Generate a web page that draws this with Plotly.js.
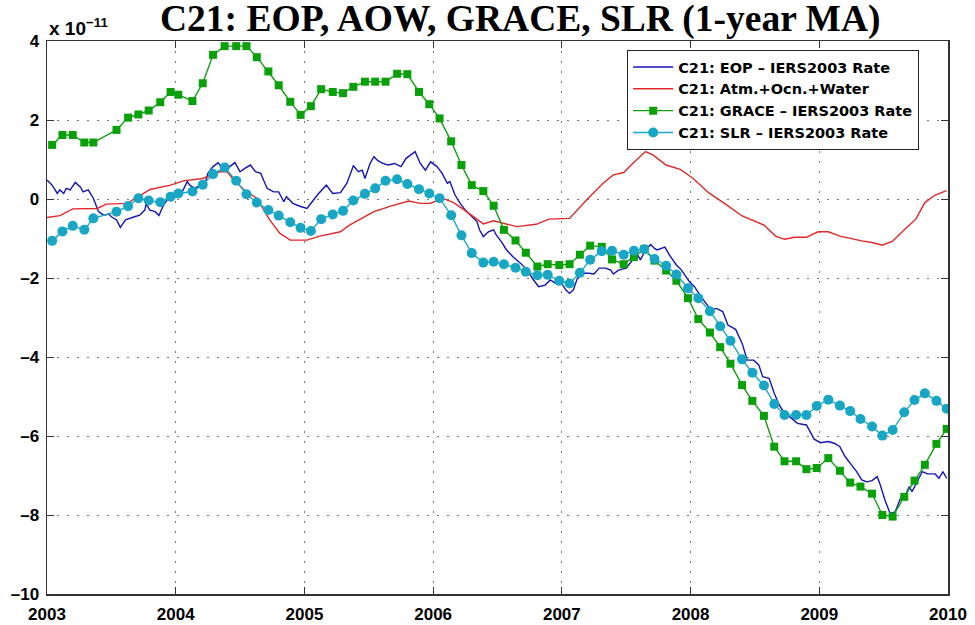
<!DOCTYPE html>
<html>
<head>
<meta charset="utf-8">
<script src="https://cdn.plot.ly/plotly-3.0.1.min.js"></script>
<style>html,body{margin:0;padding:0;background:#fff;}#chart{width:975px;height:625px;}</style>
</head>
<body>
<div id="chart"></div>
<script>
// ---- Data (units of 1e-11) ----
const eopYear = [2003.00,2003.04,2003.08,2003.10,2003.13,2003.15,2003.18,2003.22,2003.26,2003.28,2003.32,2003.36,2003.40,2003.44,2003.48,2003.50,2003.54,2003.57,2003.61,2003.64,2003.68,2003.72,2003.76,2003.77,2003.80,2003.84,2003.87,2003.90,2003.94,2003.97,
2004.01,2004.05,2004.09,2004.11,2004.15,2004.19,2004.23,2004.25,2004.29,2004.33,2004.36,2004.38,2004.42,2004.46,2004.50,2004.54,2004.58,2004.62,2004.66,2004.71,2004.76,2004.80,2004.84,2004.86,2004.91,2004.97,
2005.02,2005.06,2005.11,2005.17,2005.22,2005.28,2005.33,2005.38,2005.42,2005.45,2005.47,2005.51,2005.54,2005.57,2005.61,2005.65,2005.70,2005.75,2005.79,2005.86,2005.90,2005.94,2005.98,
2006.03,2006.07,2006.11,2006.13,2006.17,2006.21,2006.25,2006.30,2006.34,2006.36,2006.39,2006.43,2006.47,2006.49,2006.53,2006.57,2006.62,2006.68,2006.73,2006.78,2006.82,2006.87,2006.91,2006.95,2006.99,
2007.03,2007.06,2007.09,2007.12,2007.16,2007.21,2007.25,2007.29,2007.34,2007.38,2007.40,2007.44,2007.50,2007.55,2007.59,2007.61,2007.65,2007.69,2007.72,2007.74,2007.80,2007.84,2007.89,2007.93,2007.99,
2008.03,2008.10,2008.16,2008.20,2008.25,2008.29,2008.35,2008.40,2008.44,2008.49,2008.53,2008.56,2008.61,2008.65,2008.69,2008.73,2008.77,2008.83,2008.87,2008.90,2008.96,
2009.01,2009.07,2009.12,2009.16,2009.20,2009.25,2009.29,2009.33,2009.37,2009.41,2009.45,2009.47,2009.51,2009.55,2009.59,2009.63,2009.67,2009.70,2009.72,2009.76,2009.80,2009.84,2009.90,2009.93,2009.96,2009.99];
const eopValue = [0.48,0.35,0.14,0.23,0.14,0.27,0.23,0.42,0.30,0.18,0.23,0.02,-0.32,-0.41,-0.38,-0.45,-0.53,-0.72,-0.53,-0.49,-0.45,-0.41,-0.28,-0.13,-0.28,-0.32,-0.42,-0.19,0.02,-0.04,
0.10,0.18,0.44,0.35,0.27,0.35,0.40,0.65,0.82,0.92,0.78,0.86,0.82,0.92,0.69,0.78,0.86,0.69,0.65,0.27,0.18,0.18,-0.07,0.06,-0.11,-0.19,
-0.24,-0.07,0.14,0.35,0.14,0.16,0.40,0.84,0.69,0.73,0.52,0.90,1.07,0.97,0.90,0.86,0.90,0.82,1.03,1.20,0.90,0.73,0.94,
0.82,0.65,0.40,0.44,0.10,-0.11,-0.28,-0.45,-0.57,-0.78,-0.95,-0.83,-0.78,-0.91,-1.08,-1.29,-1.46,-1.63,-1.80,-2.05,-2.22,-2.18,-2.05,-2.13,-2.09,
-2.30,-2.39,-2.30,-2.01,-1.88,-1.88,-1.90,-1.75,-1.75,-1.80,-1.90,-1.80,-1.75,-1.54,-1.42,-1.54,-1.29,-1.15,-1.25,-1.29,-1.22,-1.44,-1.67,-1.80,-2.09,
-2.22,-2.56,-2.81,-2.77,-2.85,-3.19,-3.30,-3.65,-4.08,-4.08,-4.20,-4.50,-4.54,-4.92,-5.22,-5.43,-5.51,-5.68,-5.70,-5.72,-6.08,
-6.17,-6.14,-6.19,-6.27,-6.52,-6.73,-6.90,-7.11,-7.16,-7.13,-7.03,-7.20,-7.62,-7.96,-7.92,-7.58,-7.49,-7.28,-7.41,-7.16,-6.90,-6.96,-6.96,-7.07,-6.90,-7.07];

const aowYear = [2003.00,2003.10,2003.20,2003.39,2003.46,2003.62,2003.72,2003.80,2003.96,2004.06,2004.21,2004.34,2004.40,2004.45,2004.55,2004.63,2004.73,2004.81,2004.89,2005.02,2005.12,2005.28,2005.35,2005.43,2005.54,2005.67,2005.81,2005.90,2005.98,2006.07,2006.16,2006.26,2006.39,2006.47,2006.55,2006.65,2006.80,2006.90,2007.06,2007.19,2007.32,2007.40,2007.48,2007.55,2007.65,2007.71,2007.81,2007.92,2008.02,2008.14,2008.28,2008.40,2008.57,2008.66,2008.73,2008.81,2008.90,2008.99,2009.07,2009.16,2009.33,2009.41,2009.49,2009.57,2009.66,2009.75,2009.82,2009.90,2009.99];
const aowValue = [-0.47,-0.42,-0.25,-0.24,-0.13,-0.11,0.08,0.24,0.35,0.46,0.52,0.69,0.69,0.48,0.18,0.02,-0.53,-0.87,-1.04,-1.04,-0.94,-0.83,-0.66,-0.51,-0.32,-0.18,-0.05,-0.11,-0.11,0.02,-0.09,-0.32,-0.63,-0.55,-0.62,-0.70,-0.64,-0.51,-0.49,-0.03,0.40,0.61,0.67,0.90,1.20,1.11,0.86,0.75,0.52,0.16,-0.15,-0.43,-0.66,-0.94,-1.02,-0.97,-0.97,-0.83,-0.83,-0.94,-1.06,-1.10,-1.17,-1.07,-0.78,-0.51,-0.09,0.10,0.21];

const monthYear = [2003.04,2003.12,2003.20,2003.29,2003.36,2003.54,2003.63,2003.71,2003.79,2003.88,2003.96,
2004.02,2004.13,2004.21,2004.29,2004.38,2004.47,2004.55,2004.63,2004.72,2004.80,2004.89,2004.97,
2005.05,2005.13,2005.22,2005.30,2005.38,2005.47,2005.55,2005.63,2005.72,2005.80,2005.89,2005.97,
2006.05,2006.14,2006.22,2006.30,2006.39,2006.47,2006.55,2006.64,2006.72,2006.81,2006.89,2006.98,
2007.06,2007.14,2007.22,2007.31,2007.39,2007.48,2007.56,2007.64,2007.72,2007.81,2007.89,2007.98,
2008.06,2008.15,2008.23,2008.31,2008.40,2008.48,2008.57,2008.65,2008.73,2008.82,2008.90,2008.98,
2009.07,2009.16,2009.24,2009.32,2009.41,2009.49,2009.57,2009.66,2009.74,2009.82,2009.91,2009.99];
const graceValue = [1.37,1.62,1.62,1.43,1.43,1.75,2.06,2.14,2.24,2.45,2.71,
2.64,2.48,2.93,3.65,3.87,3.87,3.87,3.59,3.23,2.88,2.46,2.13,
2.35,2.78,2.71,2.68,2.84,2.97,2.97,2.97,3.17,3.16,2.71,2.40,
2.04,1.46,0.86,0.35,0.20,-0.17,-0.78,-1.05,-1.36,-1.71,-1.65,-1.67,
-1.65,-1.41,-1.18,-1.21,-1.53,-1.65,-1.47,-1.27,-1.56,-1.81,-2.07,-2.51,
-3.04,-3.38,-3.75,-4.17,-4.71,-5.11,-5.49,-6.27,-6.64,-6.64,-6.84,-6.81,
-6.56,-6.88,-7.18,-7.28,-7.46,-8.00,-8.04,-7.54,-7.13,-6.73,-6.20,-5.82];
const slrValue = [-1.06,-0.82,-0.68,-0.78,-0.49,-0.32,-0.18,0.02,-0.04,-0.08,0.06,
0.14,0.19,0.36,0.63,0.80,0.46,0.12,-0.09,-0.28,-0.42,-0.59,-0.73,
-0.81,-0.51,-0.39,-0.30,-0.04,0.13,0.27,0.46,0.50,0.38,0.25,0.14,
0.02,-0.41,-0.92,-1.37,-1.61,-1.59,-1.65,-1.74,-1.84,-1.93,-1.92,-2.07,
-2.14,-1.87,-1.54,-1.32,-1.31,-1.41,-1.31,-1.27,-1.52,-1.69,-1.91,-2.26,
-2.51,-2.84,-3.22,-3.59,-4.06,-4.40,-4.72,-5.19,-5.47,-5.47,-5.47,-5.24,
-5.08,-5.23,-5.37,-5.57,-5.76,-5.99,-5.85,-5.40,-5.09,-4.92,-5.11,-5.31];

const seriesNames = ['C21: EOP \u2013 IERS2003 Rate','C21: Atm.+Ocn.+Water','C21: GRACE \u2013 IERS2003 Rate','C21: SLR \u2013 IERS2003 Rate'];
const xTicks = [2003,2004,2005,2006,2007,2008,2009,2010];
const yTicks = [-10,-8,-6,-4,-2,0,2,4];

const sans = 'Liberation Sans, Arial, Helvetica, sans-serif';
const traces = [
  {x: eopYear, y: eopValue, name: seriesNames[0], type: 'scatter', mode: 'lines',
   line: {color: '#1414b4', width: 1.4}},
  {x: aowYear, y: aowValue, name: seriesNames[1], type: 'scatter', mode: 'lines',
   line: {color: '#e02828', width: 1.4}},
  {x: monthYear, y: graceValue, name: seriesNames[2], type: 'scatter', mode: 'lines+markers',
   line: {color: '#0fa00f', width: 1.4}, marker: {symbol: 'square', size: 8, color: '#0aa00a'}},
  {x: monthYear, y: slrValue, name: seriesNames[3], type: 'scatter', mode: 'lines+markers',
   line: {color: '#1ea8c8', width: 1.4}, marker: {symbol: 'circle', size: 10, color: '#18a6c4'}}
];

const axisCommon = {
  showline: true, linecolor: '#333', linewidth: 1.5, mirror: 'allticks',
  ticks: 'inside', ticklen: 7, tickcolor: '#333', tickwidth: 1,
  showgrid: true, gridcolor: '#777', gridwidth: 1, griddash: '2px,8px',
  zeroline: false,
  tickfont: {family: sans, size: 17, color: '#000', weight: 'bold'}
};

const layout = {
  width: 975, height: 625,
  margin: {l: 47, r: 27, t: 41, b: 31},
  paper_bgcolor: '#fff', plot_bgcolor: '#fff',
  showlegend: true,
  xaxis: Object.assign({}, axisCommon, {range: [2003, 2010], tickvals: xTicks, ticktext: xTicks.map(String), ticklabelstandoff: 4}),
  yaxis: Object.assign({}, axisCommon, {range: [-10, 4], tickvals: yTicks, ticktext: yTicks.map(v => v < 0 ? '\u2013' + Math.abs(v) : String(v)), ticklabelstandoff: 3}),
  legend: {x: 0.6437, y: 0.984, xanchor: 'left', yanchor: 'top', bgcolor: '#fff',
    bordercolor: '#222', borderwidth: 1.2, itemwidth: 40,
    font: {family: 'DejaVu Sans, Liberation Sans, sans-serif', size: 14.5, color: '#000', weight: 'bold'}, tracegroupgap: 0},
  annotations: [
    {text: 'C21: EOP, AOW, GRACE, SLR (1-year MA)', xref: 'paper', yref: 'paper', x: 0.526, y: 1.04,
     xanchor: 'center', yanchor: 'middle', showarrow: false,
     font: {family: 'Liberation Serif, Times New Roman, serif', size: 37.5, color: '#000', weight: 'bold'}},
    {text: '<b>x 10<sup>\u221211</sup></b>', xref: 'paper', yref: 'paper', x: 0.0, y: 1.0,
     xanchor: 'left', yanchor: 'bottom', showarrow: false,
     font: {family: sans, size: 19, color: '#000'}}
  ]
};

Plotly.newPlot('chart', traces, layout, {displayModeBar: false, staticPlot: true});
</script>
</body>
</html>
